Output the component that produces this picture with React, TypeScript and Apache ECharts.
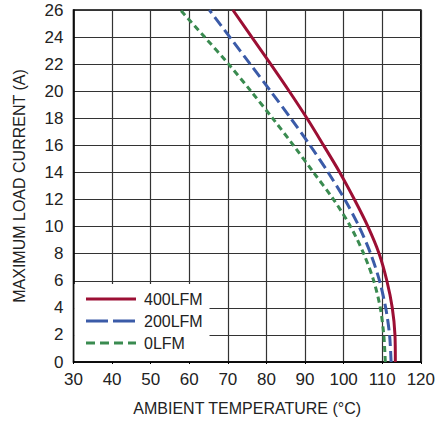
import React, { useEffect, useRef } from "react";
import * as echarts from "echarts";

const currentLevels = [0, 2, 4, 6, 8, 10, 12, 14, 16, 18, 20, 22, 24, 26];
const temp400 = [113.4, 113.3, 112.6, 111.2, 109.2, 106.3, 102.8, 99.0, 94.8, 90.5, 85.9, 81.1, 76.2, 71.3];
const temp200 = [112.3, 111.9, 110.9, 109.3, 107.0, 104.0, 100.3, 96.0, 91.3, 86.3, 81.1, 75.8, 70.5, 65.2];
const temp0 = [110.8, 110.4, 109.5, 107.8, 105.2, 101.8, 97.4, 92.2, 87.0, 81.6, 76.0, 70.2, 64.0, 57.7];
const seriesNames = ["400LFM", "200LFM", "0LFM"];

const FONT = "'Liberation Sans Narrow', 'Liberation Sans', Arial, sans-serif";
const RED = "#9c0f34";
const BLUE = "#3b5ba8";
const GREEN = "#3a8b50";

export default function App() {
  const ref = useRef<HTMLDivElement>(null);
  useEffect(() => {
    document.body.style.margin = "0";
    if (!ref.current) return;
    const chart = echarts.init(ref.current, undefined, { renderer: "svg" });
    const mk = (temps: number[]) => temps.map((t, i) => [t, currentLevels[i]]);
    const styles = [
      { color: RED, type: "solid" as any },
      { color: BLUE, type: [11, 5] as any },
      { color: GREEN, type: [6, 4] as any },
    ];
    const datasets = [temp400, temp200, temp0];
    const legendX = 86;
    const legendYs = [299, 321, 343];
    chart.setOption({
      animation: false,
      grid: {
        left: 73.5,
        right: 13,
        top: 10,
        bottom: 59,
        show: true,
        borderColor: "#000",
        borderWidth: 1.5,
        backgroundColor: "#fff",
      },
      xAxis: {
        type: "value",
        min: 30,
        max: 120,
        interval: 10,
        name: "AMBIENT TEMPERATURE (°C)",
        nameLocation: "middle",
        nameGap: 38,
        nameTextStyle: { fontFamily: FONT, fontSize: 16, color: "#222" },
        axisLine: { show: true, lineStyle: { color: "#000", width: 1.5 } },
        axisTick: { show: true, length: 2, lineStyle: { color: "#000" } },
        axisLabel: { fontFamily: FONT, fontSize: 17, color: "#222", margin: 9 },
        splitLine: { show: true, lineStyle: { color: "#333", width: 1.2 } },
      },
      yAxis: {
        type: "value",
        min: 0,
        max: 26,
        interval: 2,
        name: "MAXIMUM LOAD CURRENT (A)",
        nameLocation: "middle",
        nameGap: 46,
        nameTextStyle: { fontFamily: FONT, fontSize: 16, color: "#222" },
        axisLine: { show: true, lineStyle: { color: "#000", width: 1.5 } },
        axisTick: { show: false },
        axisLabel: { fontFamily: FONT, fontSize: 17, color: "#222", margin: 10 },
        splitLine: { show: true, lineStyle: { color: "#333", width: 1.2 } },
      },
      series: datasets.map((d, i) => ({
        type: "line",
        name: seriesNames[i],
        data: mk(d),
        smooth: 0.3,
        showSymbol: false,
        symbol: "none",
        lineStyle: { color: styles[i].color, width: 3, type: styles[i].type },
        z: 5,
      })),
      graphic: [
        {
          type: "rect",
          shape: { x: 74.5, y: 284, width: 135, height: 77 },
          style: { fill: "#fff" },
          z: 3,
        },
        ...seriesNames.flatMap((n, i) => [
          {
            type: "line",
            shape: { x1: legendX, y1: legendYs[i], x2: legendX + 50, y2: legendYs[i] },
            style: {
              stroke: styles[i].color,
              lineWidth: 3,
              lineDash: i === 0 ? null : i === 1 ? [22, 5] : [9, 5],
            },
            z: 4,
          },
          {
            type: "text",
            x: 144,
            y: legendYs[i],
            style: {
              text: n,
              fontFamily: FONT,
              fontSize: 16,
              fill: "#222",
              verticalAlign: "middle",
              align: "left",
            },
            z: 4,
          },
        ]),
      ],
    });
    return () => chart.dispose();
  }, []);
  return <div ref={ref} style={{ width: 438, height: 421 }} />;
}
